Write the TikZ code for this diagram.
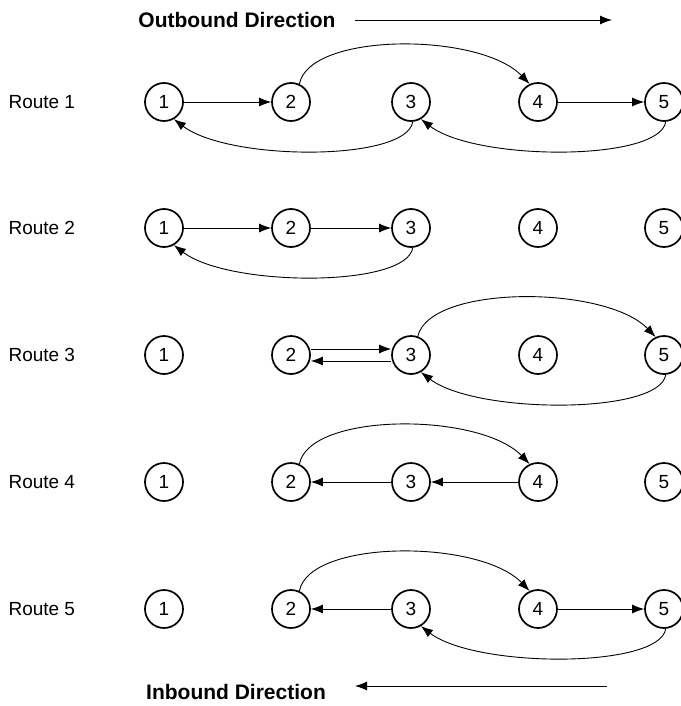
\documentclass[tikz,border=0pt]{standalone}
\usepackage{fontspec}
\setmainfont{Liberation Sans}
\usetikzlibrary{arrows.meta}
\begin{document}
\begin{tikzpicture}[x=1pt,y=-1pt,
  stn/.style={circle,draw,line width=1.7pt,minimum size=38pt,inner sep=0pt,font=\fontsize{19}{19}\selectfont},
  lbl/.style={anchor=west,font=\fontsize{19}{20}\selectfont},
  dirlbl/.style={font=\bfseries\fontsize{21}{21}\selectfont},
  arr/.style={line width=0.9pt,-{Latex[length=12pt,width=9pt]}}]
\useasboundingbox (0,0) rectangle (680,706);
\fill[white] (0,0) rectangle (680,706);

% direction labels
\node[dirlbl] (out) at (237,20) {Outbound Direction};
\coordinate (outA) at (355,20);
\coordinate (outB) at (612,20);
\draw[arr] (outA) -- (outB);
\node[dirlbl] (in) at (236,692) {Inbound Direction};
\coordinate (inA) at (607,686);
\coordinate (inB) at (355,686);
\draw[arr] (inA) -- (inB);

% nodes
\foreach \r/\y in {1/102,2/228,3/355,4/482,5/609}{
  \node[lbl] (L\r) at (5,\y) {Route \r};
  \foreach \k/\x in {1/164,2/291,3/411,4/538,5/664}{
    \node[stn] (n\r\k) at (\x,\y) {\k};
  }
}

% Route 1
\draw[arr] (n11) -- (n12);
\draw[arr] (n14) -- (n15);
\draw[arr] (n12.65) .. controls +(10,-52) and +(-50,-52) .. (n14.115);
\draw[arr] (n13.-85) .. controls +(-6,40) and +(55,42) .. (n11.-60);
\draw[arr] (n15.-85) .. controls +(-6,40) and +(55,42) .. (n13.-60);

% Route 2
\draw[arr] (n21) -- (n22);
\draw[arr] (n22) -- (n23);
\draw[arr] (n23.-85) .. controls +(-6,40) and +(55,42) .. (n21.-60);

% Route 3
\draw[arr] ([yshift=6pt]n32.east) -- ([yshift=6pt]n33.west);
\draw[arr] ([yshift=-6pt]n33.west) -- ([yshift=-6pt]n32.east);
\draw[arr] (n33.70) .. controls +(12,-52) and +(-50,-52) .. (n35.115);
\draw[arr] (n35.-85) .. controls +(-6,40) and +(55,42) .. (n33.-60);

% Route 4
\draw[arr] (n42.65) .. controls +(10,-52) and +(-50,-52) .. (n44.115);
\draw[arr] (n44) -- (n43);
\draw[arr] (n43) -- (n42);

% Route 5
\draw[arr] (n52.65) .. controls +(10,-52) and +(-50,-52) .. (n54.115);
\draw[arr] (n53) -- (n52);
\draw[arr] (n54) -- (n55);
\draw[arr] (n55.-85) .. controls +(-6,40) and +(55,42) .. (n53.-60);
\end{tikzpicture}
\end{document}
